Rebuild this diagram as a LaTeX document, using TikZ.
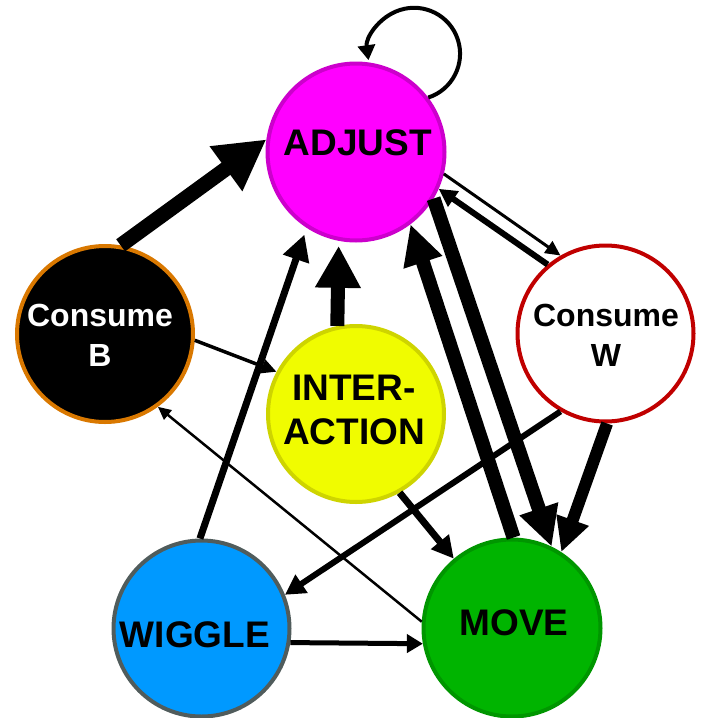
\documentclass[tikz,border=0pt]{standalone}
\usepackage{fontspec}
\setmainfont{Liberation Sans}
\usetikzlibrary{arrows.meta}
\definecolor{adjfill}{RGB}{255,0,255}
\definecolor{adjdraw}{RGB}{204,0,204}
\definecolor{cbdraw}{RGB}{217,120,0}
\definecolor{cwdraw}{RGB}{192,0,0}
\definecolor{intfill}{RGB}{240,252,0}
\definecolor{intdraw}{RGB}{206,212,0}
\definecolor{wigfill}{RGB}{0,153,255}
\definecolor{wigdraw}{RGB}{80,92,92}
\definecolor{movfill}{RGB}{0,180,0}
\definecolor{movdraw}{RGB}{0,150,0}
\begin{document}
\begin{tikzpicture}[x=1pt,y=-1pt,
  state/.style={circle, minimum size=176pt, inner sep=0pt, line width=4pt},
  bigtxt/.style={inner sep=0pt, align=center, font=\bfseries\fontsize{37}{44}\selectfont},
  smalltxt/.style={inner sep=0pt, align=center, font=\bfseries\fontsize{32}{40}\selectfont},
  con/.style={draw=black},
  tip/.style 2 args={-{Triangle[length=#1pt,width=#2pt]}}]
\useasboundingbox (0,0) rectangle (704,718);
% states
\node[state, fill=adjfill, draw=adjdraw, minimum size=177pt] (A) at (356,152) {};
\node[state, fill=black, draw=cbdraw] (CB) at (105,334) {};
\node[state, fill=white, draw=cwdraw] (CW) at (605.5,333.5) {};
\node[state, fill=intfill, draw=intdraw] (INT) at (356,414) {};
\node[state, fill=wigfill, draw=wigdraw] (WIG) at (201.5,628.5) {};
\node[state, fill=movfill, draw=movdraw, minimum size=177pt] (MOV) at (512,628) {};
% labels
\node[bigtxt] (At) at (358,142.5) {ADJUST};
\node[smalltxt, text=white] (CBt) at (100,335) {Consume\\B};
\node[smalltxt] (CWt) at (606,335) {Consume\\W};
\node[bigtxt] (INTt) at (354,410) {INTER-\\ACTION};
\node[bigtxt] (WIGt) at (195,634.5) {WIGGLE};
\node[bigtxt] (MOVt) at (514,622.5) {MOVE};
% connectors
\draw[con, line width=15pt, tip={50}{52}] (CB.80) -- (A.172);
\draw[con, line width=3.5pt, tip={15}{14}] (CB.-4) -- (INT.152);
\draw[con, line width=2.5pt, tip={13}{12}] (MOV.176) -- (CB.-54);
\draw[con, line width=7pt, tip={26}{26}, shorten >=7pt] (WIG.91) -- (A.-123);
\draw[con, line width=14pt, tip={42}{43}, shorten >=5pt] (INT.102) -- (A.-101);
\draw[con, line width=7pt, tip={22}{22}] (INT.-61) -- (MOV.130);
\draw[con, line width=5pt, tip={16}{18}] (WIG.-9) -- (MOV.-170);
\draw[con, line width=6pt, tip={20}{21}] (CW.-120) -- (WIG.22);
\draw[con, line width=12pt, tip={34}{32}] (CW.-89) -- (MOV.57);
\draw[con, line width=3pt, tip={15}{14}] (A.-14) -- (CW.120);
\draw[con, line width=6pt, tip={18}{18}] (CW.130) -- (A.-24);
\draw[con, line width=14pt, tip={40}{38}] (A.-31) -- (MOV.64);
\draw[con, line width=14pt, tip={40}{38}] (MOV.89) -- (A.-53);
\draw[con, line width=4pt, tip={15}{17}] (A.37) arc[start angle=72, end angle=-188, radius=46];
\end{tikzpicture}
\end{document}
